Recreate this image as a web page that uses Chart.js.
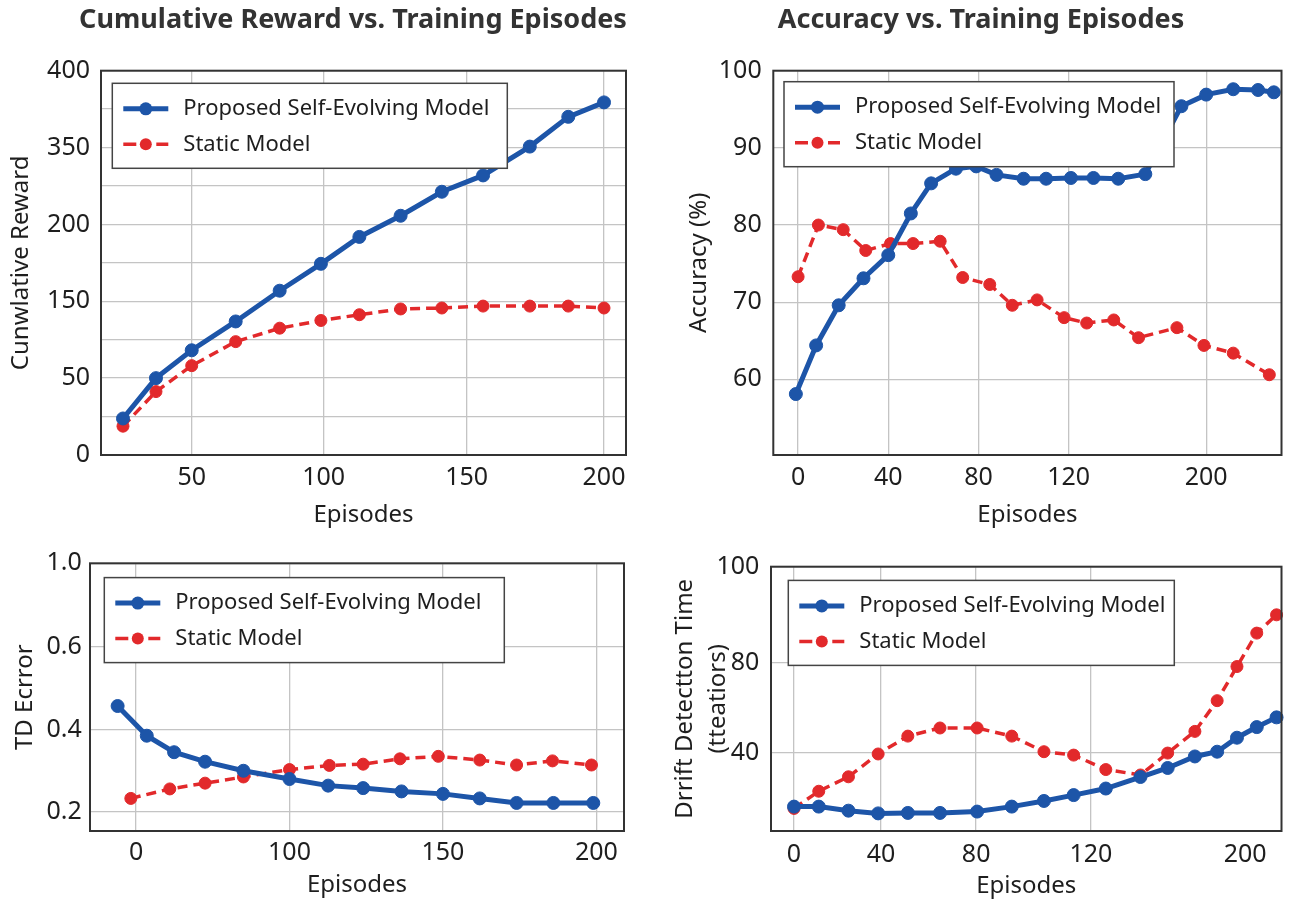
<!DOCTYPE html>
<html>
<head>
<meta charset="utf-8">
<script src="https://cdn.jsdelivr.net/npm/chart.js@4.4.0/dist/chart.umd.min.js"></script>
<style>
html, body { margin: 0; padding: 0; background: #fff; overflow: hidden; width: 1289px; height: 901px; position: relative; }
canvas { position: absolute; }
</style>
</head>
<body>
<canvas id="reward" width="704" height="540" style="left:0;top:0"></canvas>
<canvas id="accuracy" width="616" height="540" style="left:673px;top:0"></canvas>
<canvas id="tderror" width="645" height="380" style="left:0;top:540px"></canvas>
<canvas id="drift" width="644" height="380" style="left:645px;top:540px"></canvas>
<script>
// ---- data (axis units as drawn) ----
var seriesNames = ['Proposed Self-Evolving Model', 'Static Model'];

// cumulative reward
var rewardEpisodes = [25, 37, 50, 66, 82, 97, 111, 126, 141, 156, 173, 187, 200];
var rewardProposed = [38, 80, 109, 139, 171, 199, 227, 249, 274, 291, 321, 352, 367];
var rewardStatic = [30, 66, 93, 118, 132, 140, 146, 152, 153, 155, 155, 155, 153];
var rewardXTicks = [50, 98, 150, 200];
var rewardXLabels = ['50', '100', '150', '200'];
var rewardYTicks = [0, 40, 80, 120, 160, 200, 240, 280, 320, 360, 400];
var rewardYLabels = ['0', '', '50', '', '150', '', '200', '', '350', '', '400'];

// accuracy
var accProposedEp = [-1, 8, 18, 29, 40, 50, 59, 70, 79, 88, 100, 110, 121, 131, 142, 154, 162, 170, 181, 193, 204, 211];
var accProposed = [58.1, 64.4, 69.6, 73.1, 76.1, 81.5, 85.4, 87.3, 87.6, 86.5, 86.0, 86.0, 86.1, 86.1, 86.0, 86.6, 91.0, 95.4, 96.9, 97.6, 97.5, 97.2];
var accStaticEp = [0, 9, 20, 30, 41, 51, 63, 73, 85, 95, 106, 118, 128, 140, 151, 168, 180, 193, 209];
var accStatic = [73.3, 80.0, 79.4, 76.7, 77.6, 77.6, 77.9, 73.2, 72.3, 69.6, 70.3, 68.0, 67.3, 67.7, 65.4, 66.7, 64.4, 63.4, 60.6];
var accXTicks = [0, 40, 80, 120, 181];
var accXLabels = ['0', '40', '80', '120', '200'];
var accYTicks = [60, 70, 80, 90, 100];
var accYLabels = ['60', '70', '80', '90', '100'];

// td error
var tdProposedEp = [44, 53.5, 62.4, 72.5, 85, 100, 112.6, 124, 136.5, 150, 162, 174, 186, 199];
var tdProposed = [0.457, 0.385, 0.345, 0.322, 0.300, 0.280, 0.264, 0.258, 0.250, 0.244, 0.233, 0.222, 0.222, 0.222];
var tdStaticEp = [48.3, 61, 72.5, 85, 100, 113, 124, 136, 148.5, 162, 174, 185.7, 198.4];
var tdStatic = [0.233, 0.256, 0.270, 0.285, 0.303, 0.313, 0.316, 0.329, 0.335, 0.326, 0.314, 0.324, 0.314];
var tdXTicks = [50, 100, 150, 200];
var tdXLabels = ['0', '100', '150', '200'];
var tdYTicks = [0.2, 0.4, 0.6, 0.803];
var tdYLabels = ['0.2', '0.4', '0.6', '1.0'];

// drift detection time
var driftEpisodes = [0, 10, 22, 34, 46, 59, 74, 88, 101, 113, 126, 140, 151, 162, 171, 179, 187, 195];
var driftProposed = [16.3, 16.3, 14.5, 13.3, 13.5, 13.5, 14.1, 16.3, 18.8, 21.4, 24.3, 29.4, 33.4, 38.5, 40.6, 46.8, 51.5, 55.8];
var driftStatic = [15.5, 23.1, 29.5, 39.6, 47.5, 51.1, 51.1, 47.5, 40.6, 39.1, 32.7, 30.3, 40.0, 49.6, 63.2, 78.3, 93.1, 101.2];
var driftXTicks = [0, 35.2, 73.6, 120, 182.3];
var driftXLabels = ['0', '40', '80', '120', '200'];
var driftYTicks = [40, 80, 122.5];
var driftYLabels = ['40', '80', '100'];

// ---- styles ----
var BLUE = '#1d55a8';
var RED = '#e2292b';
var GRID = '#c4c4c4';
var TEXT = '#1e1e1e';
var tickFont = { family: 'Noto Sans', size: 25 };
var labelFont = { family: 'Noto Sans', size: 24 };

function points(xs, ys) {
    return xs.map(function (x, i) { return { x: x, y: ys[i] }; });
}

function datasets(bx, by, rx, ry) {
    return [{
        label: seriesNames[0],
        data: points(bx, by),
        borderColor: BLUE, backgroundColor: BLUE,
        pointBackgroundColor: BLUE, pointBorderColor: BLUE,
        borderWidth: 5, pointRadius: 6.5, pointBorderWidth: 1,
        tension: 0, clip: 8
    }, {
        label: seriesNames[1],
        data: points(rx, ry),
        borderColor: RED, backgroundColor: RED,
        pointBackgroundColor: RED, pointBorderColor: RED,
        borderWidth: 3.5, borderDash: [10, 6], pointRadius: 6, pointBorderWidth: 1,
        tension: 0, clip: 8
    }];
}

// axis with fixed tick positions and the labels printed in the picture
function axis(min, max, tickVals, tickLabels, size, pad, title, titlePad, gridColor) {
    return {
        type: 'linear', min: min, max: max,
        afterBuildTicks: function (s) { s.ticks = tickVals.map(function (v) { return { value: v }; }); },
        afterFit: function (s) { if (s.isHorizontal()) s.height = size; else s.width = size; },
        ticks: {
            autoSkip: false, maxRotation: 0, padding: pad, color: TEXT, font: tickFont,
            callback: function (v, i) { return tickLabels[i]; }
        },
        grid: { color: gridColor || GRID, lineWidth: 1.3, drawTicks: false },
        border: { display: false },
        title: { display: true, text: title, color: TEXT, font: labelFont, padding: { top: titlePad, bottom: 0 } }
    };
}

// boxed legend drawn over the lines, top left inside the plot
var legendBox = {
    id: 'legendBox',
    afterDatasetsDraw: function (chart, args, opts) {
        var ctx = chart.ctx, a = chart.chartArea;
        var x = a.left + opts.dx, y = a.top + opts.dy;
        ctx.save();
        ctx.fillStyle = '#fff';
        ctx.fillRect(x, y, opts.width, 85);
        ctx.strokeStyle = '#444';
        ctx.lineWidth = 1.5;
        ctx.strokeRect(x, y, opts.width, 85);
        chart.data.datasets.forEach(function (ds, i) {
            var rowY = y + 25.5 + i * 35.5;
            ctx.strokeStyle = ds.borderColor;
            ctx.lineWidth = ds.borderWidth;
            ctx.setLineDash(ds.borderDash ? [13, 20] : []);
            ctx.beginPath();
            ctx.moveTo(x + 11, rowY);
            ctx.lineTo(x + 56, rowY);
            ctx.stroke();
            ctx.setLineDash([]);
            ctx.fillStyle = ds.pointBackgroundColor;
            ctx.beginPath();
            ctx.arc(x + 33.5, rowY, ds.pointRadius, 0, Math.PI * 2);
            ctx.fill();
            ctx.fillStyle = TEXT;
            ctx.font = '22px "Noto Sans"';
            ctx.textBaseline = 'middle';
            ctx.fillText(ds.label, x + 71, rowY);
        });
        ctx.restore();
    }
};

var frame = {
    id: 'frame',
    afterDraw: function (chart) {
        var ctx = chart.ctx, a = chart.chartArea;
        ctx.save();
        ctx.strokeStyle = '#333';
        ctx.lineWidth = 2;
        ctx.strokeRect(a.left, a.top, a.right - a.left, a.bottom - a.top);
        ctx.restore();
    }
};

// panel heading, centred where the picture has it (not over the plot)
var panelTitle = {
    id: 'panelTitle',
    afterDraw: function (chart, args, opts) {
        if (!opts.text) return;
        var ctx = chart.ctx;
        ctx.save();
        ctx.font = 'bold 27px "Noto Sans"';
        ctx.fillStyle = '#333';
        ctx.textAlign = 'center';
        ctx.textBaseline = 'middle';
        ctx.fillText(opts.text, opts.x, opts.y);
        ctx.restore();
    }
};

function makeChart(id, title, data, scales, padding, legend) {
    return new Chart(document.getElementById(id), {
        type: 'line',
        data: { datasets: data },
        options: {
            responsive: false,
            animation: false,
            layout: { padding: padding },
            scales: scales,
            plugins: {
                legend: { display: false },
                tooltip: { enabled: false },
                title: { display: false },
                panelTitle: title,
                legendBox: legend
            }
        },
        plugins: [legendBox, frame, panelTitle]
    });
}

makeChart('reward', { text: 'Cumulative Reward vs. Training Episodes', x: 353, y: 20 },
    datasets(rewardEpisodes, rewardProposed, rewardEpisodes, rewardStatic),
    {
        x: axis(17, 208, rewardXTicks, rewardXLabels, 74.4, 8.3, 'Episodes', 0),
        y: axis(0, 400, rewardYTicks, rewardYLabels, 101, 11, 'Cunwlative Reward', 6.3)
    },
    { left: 0, right: 78, top: 70.7, bottom: 10.6 },
    { dx: 11.3, dy: 12.6, width: 395 });

makeChart('accuracy', { text: 'Accuracy vs. Training Episodes', x: 308, y: 20 },
    datasets(accProposedEp, accProposed, accStaticEp, accStatic),
    {
        x: axis(-11, 214.4, accXTicks, accXLabels, 74.4, 8, 'Episodes', 0),
        y: axis(50.2, 100, accYTicks, accYLabels, 100.3, 11.6, 'Accuracy (%)', 11.9)
    },
    { left: 0, right: 2.3, top: 70.7, bottom: 10.6 },
    { dx: 10.7, dy: 11, width: 390 });

makeChart('tderror', {},
    datasets(tdProposedEp, tdProposed, tdStaticEp, tdStatic),
    {
        x: axis(35, 209, tdXTicks, tdXLabels, 68.4, 7.3, 'Episodes', 0),
        y: axis(0.154, 0.803, tdYTicks, tdYLabels, 90, 8.3, 'TD Ecrror', 10.6)
    },
    { left: 0, right: 21, top: 19, bottom: 20.6 },
    { dx: 14.3, dy: 14.3, width: 400 });

var driftY = axis(5.5, 122.5, driftYTicks, driftYLabels, 126, 11.7, ['Drrift Detectton Time', '(tteatiors)'], 23.3);
driftY.title.font = { family: 'Noto Sans', size: 24, lineHeight: 1.39 };
makeChart('drift', {},
    datasets(driftEpisodes, driftProposed, driftEpisodes, driftStatic),
    {
        x: axis(-9.3, 197, driftXTicks, driftXLabels, 69.4, 9, 'Episodes', 0,
            function (c) { return c.index < 4 ? GRID : 'rgba(0,0,0,0)'; }),
        y: driftY
    },
    { left: 0, right: 2.3, top: 19, bottom: 19.6 },
    { dx: 17.3, dy: 13.7, width: 386 });
</script>
</body>
</html>
